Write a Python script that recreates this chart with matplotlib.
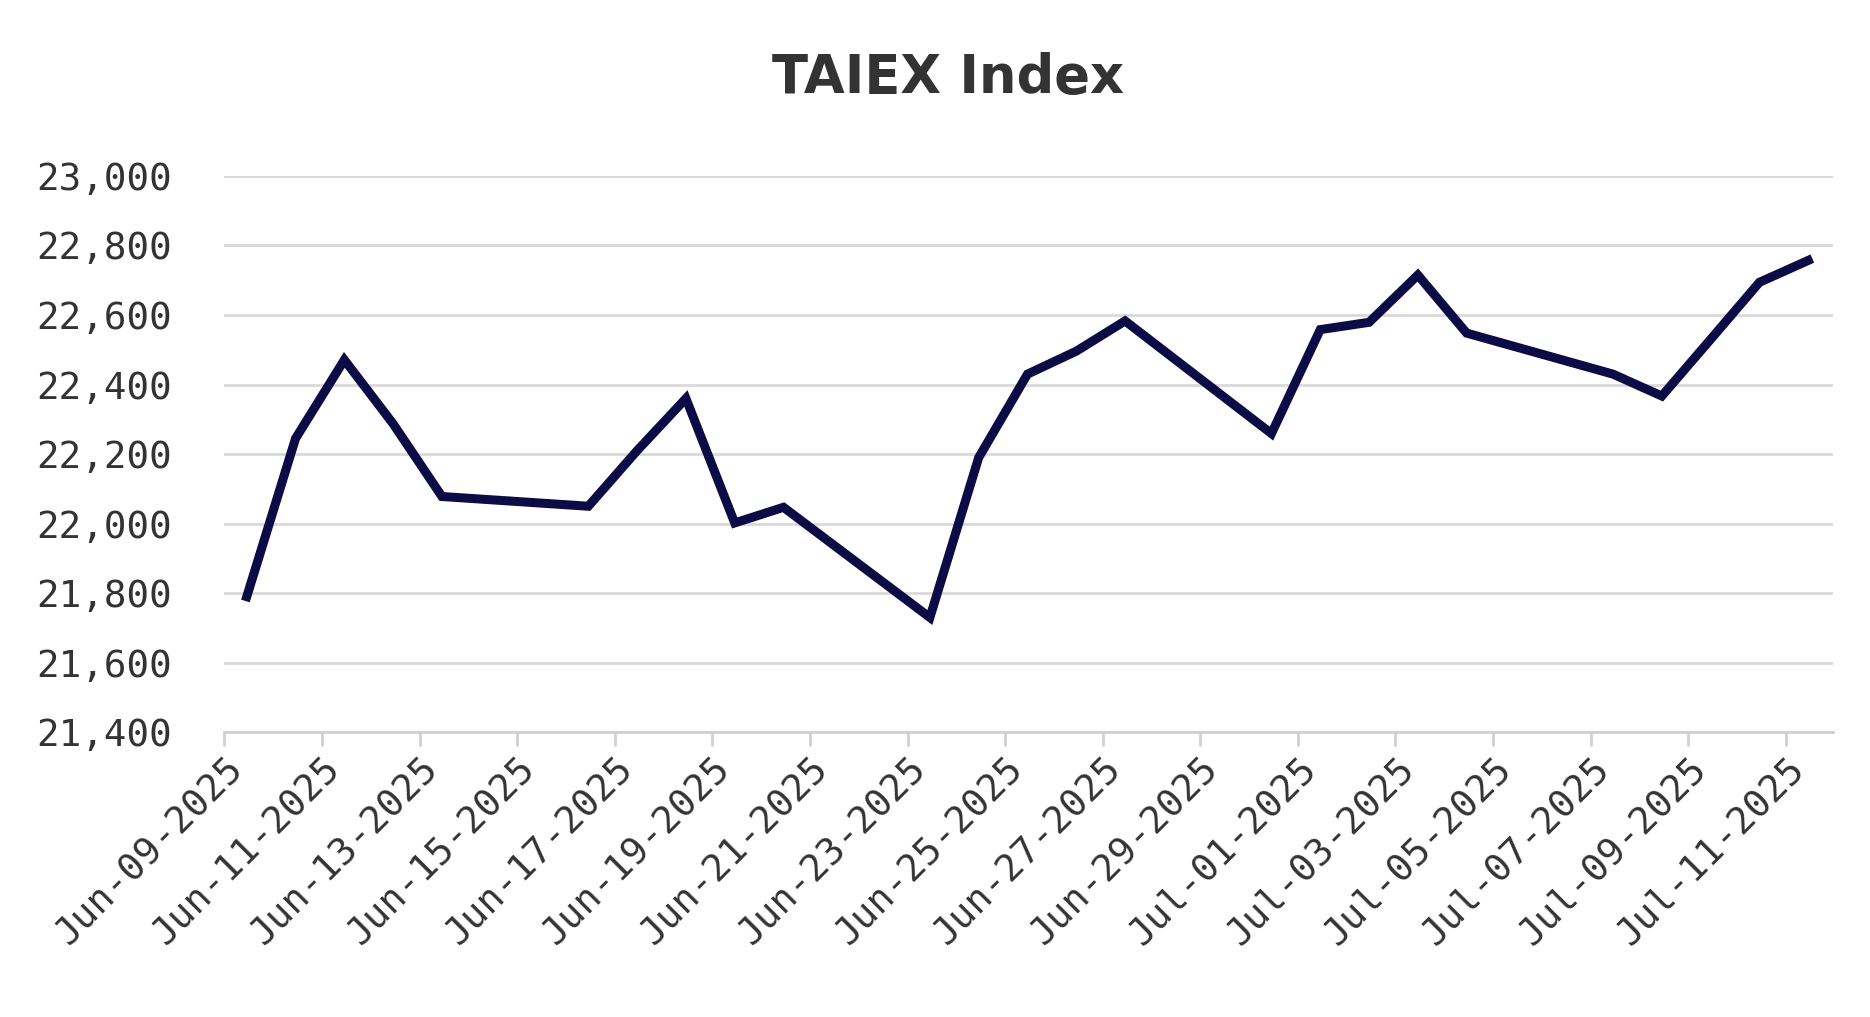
import matplotlib.pyplot as plt
import matplotlib.dates as mdates
import pandas as pd

# trading days (points sit a bit after midnight on the date axis)
dates = ['2025-06-09', '2025-06-10', '2025-06-11', '2025-06-12', '2025-06-13',
         '2025-06-16', '2025-06-17', '2025-06-18', '2025-06-19', '2025-06-20',
         '2025-06-23', '2025-06-24', '2025-06-25', '2025-06-26', '2025-06-27',
         '2025-06-30', '2025-07-01', '2025-07-02', '2025-07-03', '2025-07-04',
         '2025-07-07', '2025-07-08', '2025-07-09', '2025-07-10', '2025-07-11']
close = [21790, 22245, 22471, 22287, 22078,
         22050, 22210, 22360, 22002, 22047,
         21730, 22190, 22430, 22496, 22583,
         22259, 22558, 22579, 22715, 22548,
         22430, 22367, 22530, 22694, 22757]

x = pd.to_datetime(dates) + pd.Timedelta(hours=11)

fig = plt.figure(figsize=(18.7, 10.17), dpi=100)
ax = fig.add_axes([0.12, 0.28, 0.86, 0.547])
ax.plot(x, close, color='#0b0b45', linewidth=6.5, solid_joinstyle='miter')

ax.set_ylim(21400, 23000)
ax.set_yticks(range(21400, 23001, 200))
ax.yaxis.set_major_formatter(plt.FuncFormatter(lambda v, p: f'{int(v):,}'))
ax.set_xlim(pd.Timestamp('2025-06-09'), pd.Timestamp('2025-07-11 23:00'))
ax.xaxis.set_major_locator(mdates.DayLocator(interval=2))
ax.xaxis.set_major_formatter(mdates.DateFormatter('%b-%d-%Y'))

ax.grid(axis='y', color='#d9d9d9', linewidth=2)
ax.set_axisbelow(True)
for s in ['top', 'right', 'left']:
    ax.spines[s].set_visible(False)
ax.spines['bottom'].set_color('#d0d0d0')
ax.spines['bottom'].set_linewidth(2)
ax.tick_params(axis='y', length=0, labelsize=27, labelcolor='#333333', pad=38)
ax.tick_params(axis='x', length=10, width=2, color='#d0d0d0', labelsize=27,
               labelcolor='#333333')
for lab in ax.get_xticklabels() + ax.get_yticklabels():
    lab.set_family('DejaVu Sans Mono')
plt.setp(ax.get_xticklabels(), rotation=45, ha='right', rotation_mode='anchor')

fig.text(0.507, 0.923, 'TAIEX Index', ha='center', va='center',
         fontsize=38, fontweight='bold', color='#333333')

fig.savefig('out.png')
